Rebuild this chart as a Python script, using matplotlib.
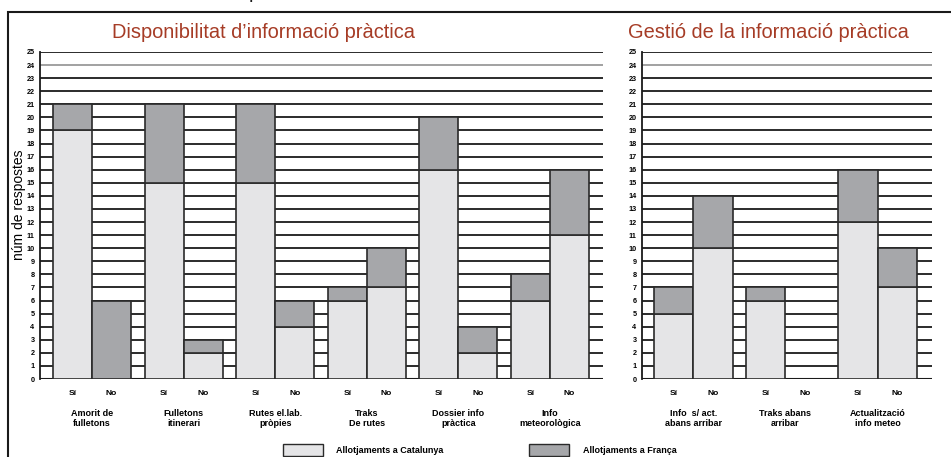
import matplotlib.pyplot as plt
from matplotlib.patches import Patch, Rectangle
from matplotlib import font_manager

# data
left_groups = ["Amorit de\nfulletons", "Fulletons\nitinerari", "Rutes el.lab.\npròpies",
               "Traks\nDe rutes", "Dossier info\npràctica", "Info\nmeteorològica"]
left_cat = [[19, 0], [15, 2], [15, 4], [6, 7], [16, 2], [6, 11]]
left_fra = [[2, 6], [6, 1], [6, 2], [1, 3], [4, 2], [2, 5]]

right_groups = ["Info  s/ act.\nabans arribar", "Traks abans\narribar", "Actualització\ninfo meteo"]
right_cat = [[5, 10], [6, 0], [12, 7]]
right_fra = [[2, 4], [1, 0], [4, 3]]

answers = ["Sí", "No"]
yticks = list(range(0, 26))

title_left = "Disponibilitat d\u2019informació pràctica"
title_right = "Gestió de la informació pràctica"
ylabel = "núm de respostes"
legend_labels = ["Allotjaments a Catalunya", "Allotjaments a França"]

names = {f.name for f in font_manager.fontManager.ttflist}
narrow = "Liberation Sans Narrow" if "Liberation Sans Narrow" in names else "Liberation Sans"
plt.rcParams['font.family'] = [narrow, 'DejaVu Sans']

light = "#e5e5e7"
dark = "#a6a7aa"
edge = "#2a2a2a"
red = "#a63c26"
stride = 2.35

W, H = 951, 457
fig = plt.figure(figsize=(W / 100, H / 100), dpi=100)


def px_axes(x0, x1, ytop, ybot):
    return fig.add_axes([x0 / W, (H - ybot) / H, (x1 - x0) / W, (ybot - ytop) / H])


def draw_panel(ax, groups, cat, fra, xmin, xmax):
    for y in range(1, 26):
        ax.axhline(y, color="#9a9a9a" if y == 24 else "#1a1a1a", lw=1.3, zorder=1)
    ax.axhline(0, color="#1a1a1a", lw=1.5, zorder=1)
    xs, labs = [], []
    for g in range(len(groups)):
        for k in range(2):
            x = g * stride + k
            c, f = cat[g][k], fra[g][k]
            if c + f > 0:
                ax.bar(x, c, width=1, align='edge', color=light, edgecolor=edge, lw=1.2, zorder=3)
                ax.bar(x, f, bottom=c, width=1, align='edge', color=dark, edgecolor=edge, lw=1.2, zorder=3)
            xs.append(x + 0.5)
            labs.append(answers[k])
        ax.text(g * stride + 1, -0.12, groups[g], transform=ax.get_xaxis_transform(),
                ha='center', va='center', fontsize=6.5, fontweight='bold', linespacing=1.2)
    ax.set_xlim(xmin, xmax)
    ax.set_ylim(0, 25)
    ax.set_xticks(xs)
    ax.set_xticklabels(labs, fontsize=6, fontweight='bold')
    ax.tick_params(axis='x', length=0, pad=8)
    ax.set_yticks(yticks)
    ax.set_yticklabels([str(v) for v in yticks], fontsize=5.2, fontweight='bold')
    ax.tick_params(axis='y', length=0, pad=4)
    for s in ["right", "bottom", "top"]:
        ax.spines[s].set_visible(False)
    ax.spines["left"].set_linewidth(1.3)
    ax.spines["left"].set_color("#1a1a1a")
    ax.patch.set_alpha(0)


axl = px_axes(40, 603, 52, 379)
draw_panel(axl, left_groups, left_cat, left_fra, -0.333, 5 * stride + 2.36)
axl.set_ylabel(ylabel, fontsize=10)
axl.yaxis.set_label_coords(-14 / 563, (379 - 205) / 327)

axr = px_axes(642, 932, 52, 379)
draw_panel(axr, right_groups, right_cat, right_fra, -0.308, 2 * stride + 2.385)

fig.text(263 / W, (H - 33) / H, title_left, color=red, fontsize=14.4, ha='center', va='center')
fig.text(768 / W, (H - 33) / H, title_right, color=red, fontsize=14.4, ha='center', va='center')

# outer frame, partly outside the picture
fig.add_artist(Rectangle((8 / W, -0.1), 1.2, (H - 12) / H + 0.1, transform=fig.transFigure,
                         fill=False, edgecolor="#1a1a1a", lw=1.5))
fig.text(254 / W, (H + 6) / H, "p", fontsize=14, ha='center', va='center', color="#1a1a1a")

handles = [Patch(facecolor=light, edgecolor=edge, lw=1), Patch(facecolor=dark, edgecolor=edge, lw=1)]
fig.legend(handles, legend_labels, loc='center left', bbox_to_anchor=(283 / W, (H - 450) / H),
           ncol=2, frameon=False, prop={'size': 6.5, 'weight': 'bold'}, borderpad=0,
           borderaxespad=0, handlelength=4.4, handleheight=1.6, handletextpad=1.5,
           columnspacing=9.5)

fig.savefig("out.png", dpi=100)
